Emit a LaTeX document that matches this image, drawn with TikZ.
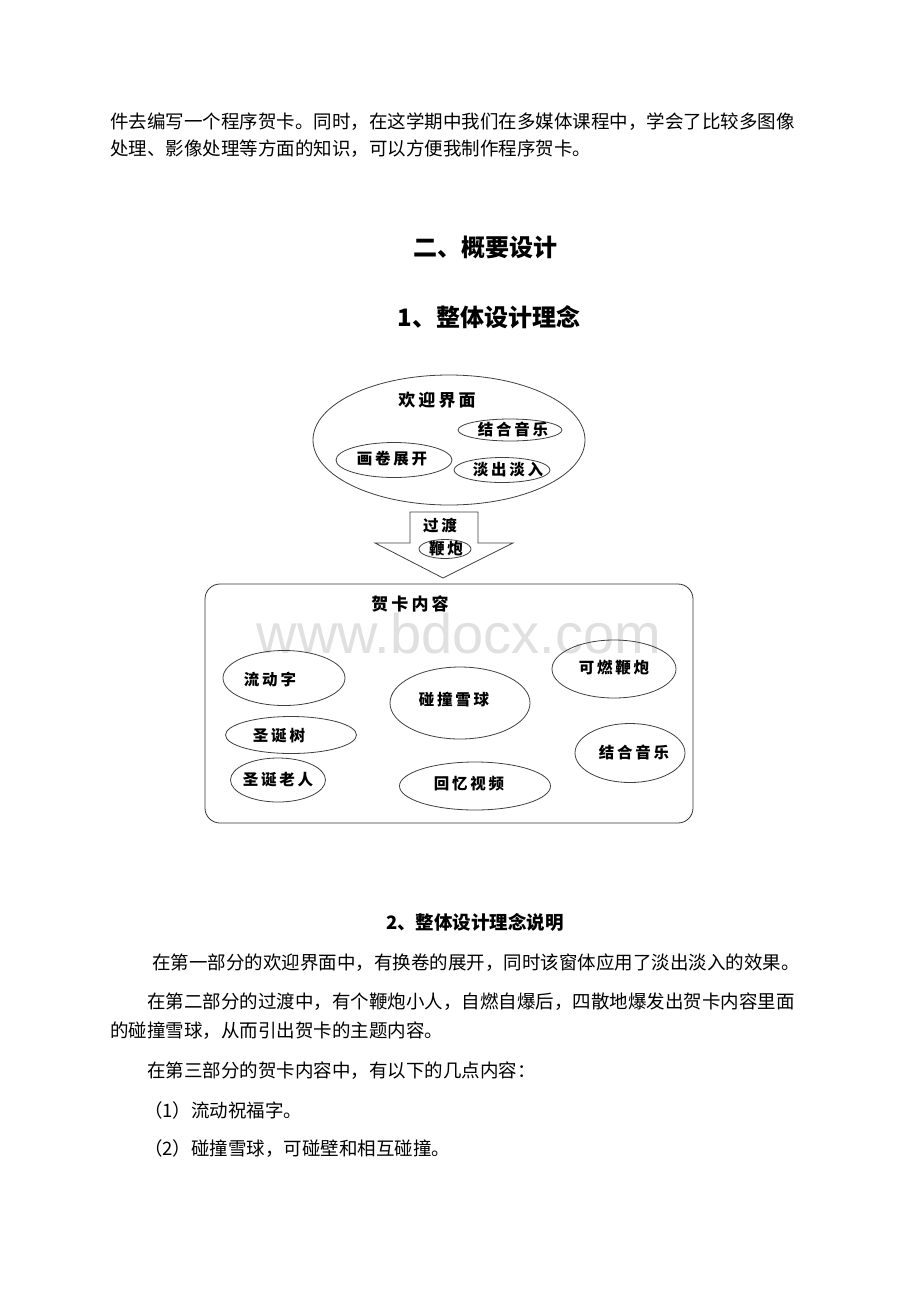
\documentclass[tikz,border=0pt]{standalone}
\usepackage{fontspec}
\setmainfont{Noto Sans CJK SC}
\newfontfamily\kai[LetterSpace=18]{Noto Sans CJK SC}
\newfontfamily\wmark{Liberation Sans}
\usetikzlibrary{shapes.geometric}
\def\bodyfont{\fontsize{18.5}{20}\selectfont}
\def\headfont{\fontsize{24}{26}\selectfont\bfseries}
\def\smallfont{\kai\fontsize{15.5}{17}\selectfont\bfseries}
\def\bigfont{\kai\fontsize{17}{19}\selectfont\bfseries}

\begin{document}
\begin{tikzpicture}[x=1pt, y=-1pt,
	every node/.style={inner sep=0pt},
	line/.style={anchor=west},
	bubble/.style={draw=black!75, line width=0.8pt, ellipse},
	title/.style={font=\headfont}]
			%%%%% START %%%%%
			
			\fill[white] (0, 0) rectangle (920, 1302);
			\useasboundingbox (0, 0) rectangle (920, 1302);
			
			\node[line] (top1) at (110, 122) {\bodyfont 件去编写一个程序贺卡。同时，在这学期中我们在多媒体课程中，学会了比较多图像};
			\node[line] (top2) at (110, 149) {\bodyfont 处理、影像处理等方面的知识，可以方便我制作程序贺卡。};
			
			\node[title] (sec2) at (485, 247) {二、概要设计};
			\node[title] (sub1) at (489, 317) {1、整体设计理念};
			
			% welcome part
			\node[bubble, minimum width=272, minimum height=130] (welcome) at (449, 440) {};
			\node (welcometxt) at (437, 400) {\bigfont 欢迎界面};
			\node[bubble, minimum width=104, minimum height=22] (music) at (510, 430) {};
			\node (musictxt) at (513, 430) {\smallfont 结合音乐};
			\node[bubble, minimum width=116, minimum height=35] (scroll) at (394, 460) {};
			\node (scrolltxt) at (392, 459) {\smallfont 画卷展开};
			\node[bubble, minimum width=96, minimum height=25] (fade) at (502, 470) {};
			\node (fadetxt) at (508, 470) {\smallfont 淡出淡入};
			
			% transition arrow
			\draw[draw=black!75, line width=0.8pt, fill=white] (410, 512) -- (478, 512) -- (478, 543) -- (513, 543)
				-- (443, 578) -- (375, 543) -- (410, 543) -- cycle;
			\node (passtxt) at (440, 526) {\smallfont 过渡};
			\node[bubble, minimum width=52, minimum height=19] (cracker) at (445, 549) {};
			\node (crackertxt) at (446, 549) {\smallfont 鞭炮};
			
			% card content
			\draw[draw=black!80, line width=0.8pt, rounded corners=15] (205, 584) rectangle (693, 823);
			\node[text=black!12, anchor=base, text height=38pt, text depth=0pt] (wm) at (459, 653) {\wmark\fontsize{56}{60}\selectfont www.bdocx.com};
			\node (cardtxt) at (410, 604) {\bigfont 贺卡内容};
			
			\node[bubble, minimum width=122, minimum height=55] (flow) at (284, 678) {};
			\node (flowtxt) at (270, 680) {\smallfont 流动字};
			\node[bubble, minimum width=140, minimum height=72] (snow) at (460, 703) {};
			\node (snowtxt) at (454, 700) {\smallfont 碰撞雪球};
			\node[bubble, minimum width=124, minimum height=58] (fire) at (614, 669) {};
			\node (firetxt) at (614, 668) {\smallfont 可燃鞭炮};
			\node[bubble, minimum width=131, minimum height=37] (tree) at (291, 735) {};
			\node (treetxt) at (279, 736) {\smallfont 圣诞树};
			\node[bubble, minimum width=110, minimum height=59] (song) at (630, 753) {};
			\node (songtxt) at (634, 753) {\smallfont 结合音乐};
			\node[bubble, minimum width=95, minimum height=44] (santa) at (278, 780) {};
			\node (santatxt) at (278, 780) {\smallfont 圣诞老人};
			\node[bubble, minimum width=151, minimum height=48] (video) at (475, 786) {};
			\node (videotxt) at (469, 784) {\smallfont 回忆视频};
			
			\node[title, font=\fontsize{18.5}{20}\selectfont\bfseries] (sub2) at (475, 922) {2、整体设计理念说明};
			
			\node[line] (p1) at (152, 963) {\bodyfont 在第一部分的欢迎界面中，有换卷的展开，同时该窗体应用了淡出淡入的效果。};
			\node[line] (p2) at (147, 1002) {\bodyfont 在第二部分的过渡中，有个鞭炮小人，自燃自爆后，四散地爆发出贺卡内容里面};
			\node[line] (p2b) at (110, 1031) {\bodyfont 的碰撞雪球，从而引出贺卡的主题内容。};
			\node[line] (p3) at (147, 1071) {\bodyfont 在第三部分的贺卡内容中，有以下的几点内容：};
			\node[line] (p4) at (144, 1110) {\bodyfont （1）流动祝福字。};
			\node[line] (p5) at (144, 1149) {\bodyfont （2）碰撞雪球，可碰壁和相互碰撞。};
			
			%%%%% END %%%%%
\end{tikzpicture}
\end{document}
